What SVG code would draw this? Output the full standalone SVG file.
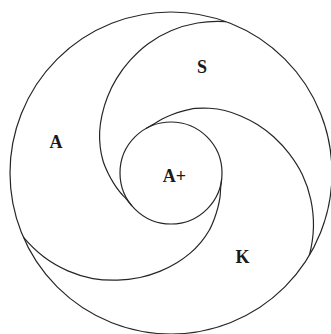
<svg xmlns="http://www.w3.org/2000/svg" xmlns:xlink="http://www.w3.org/1999/xlink" width="331" height="334" viewBox="0 0 331 334">
<style>
.ln{fill:none;stroke:#262626;stroke-width:1.2}
.lb{font-family:"Liberation Serif","DejaVu Serif",serif;font-weight:bold;font-size:18px;fill:#1a1a1a;text-anchor:middle}
</style>
<defs>
<path id="spiral" class="ln" d="M226.07,21.71 C216.40,21.11 206.63,21.50 197.45,23.01 C188.27,24.53 179.21,27.35 171,30.8 C162.79,34.25 155.03,38.75 148.2,43.69 C141.37,48.64 135.32,54.65 130.04,60.47 C124.76,66.29 120.28,72.49 116.5,78.6 C112.72,84.72 109.78,91.08 107.36,97.16 C104.94,103.24 103.27,109.31 101.98,115.08 C100.69,120.85 99.93,126.44 99.64,131.8 C99.35,137.16 99.67,142.38 100.24,147.25 C100.81,152.12 101.76,156.73 103.05,161.02 C104.34,165.31 106.24,169.32 108,173 C109.76,176.68 111.66,180.0 113.59,183.12 C115.52,186.24 117.51,189.08 119.6,191.71 C121.69,194.34 124.09,196.56 126.14,198.9 C128.20,201.25 129.92,203.59 131.93,205.78"/>
</defs>
<rect width="331" height="334" fill="#ffffff"/>
<g id="outer"><circle class="ln" cx="171" cy="173" r="161"/></g>
<g id="connectors">
<use xlink:href="#spiral" href="#spiral"/>
<use xlink:href="#spiral" href="#spiral" transform="rotate(100.7 171 173)"/>
<use xlink:href="#spiral" href="#spiral" transform="rotate(-133.5 171 173)"/>
</g>
<g id="inner"><circle class="ln" cx="171" cy="173" r="51"/><text class="lb" x="174.5" y="181.5">A+</text></g>
<g id="S"><text class="lb" x="202" y="72.5">S</text></g>
<g id="A"><text class="lb" x="56" y="148">A</text></g>
<g id="K"><text class="lb" x="242.5" y="263">K</text></g>
</svg>
